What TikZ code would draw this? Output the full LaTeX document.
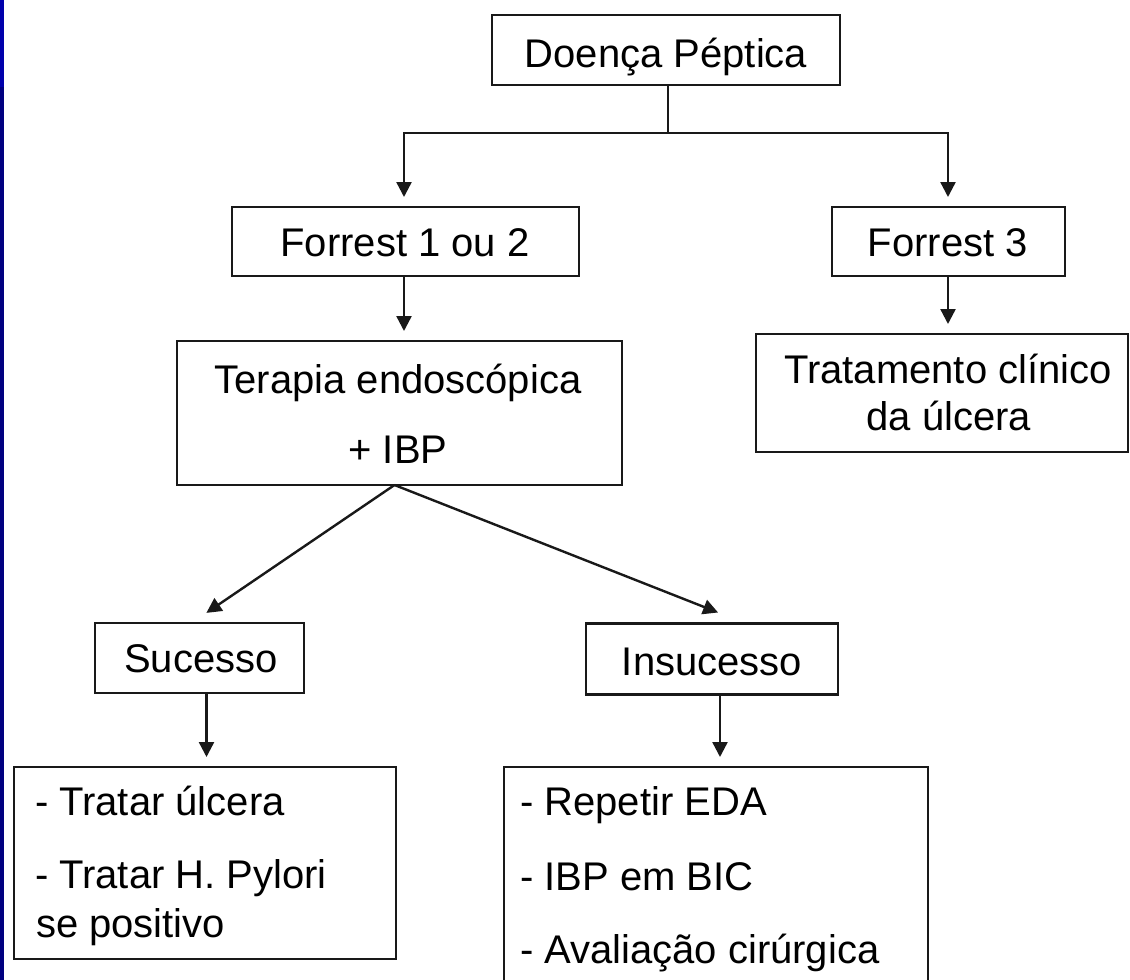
\documentclass[tikz,border=0pt]{standalone}
\usepackage{fontspec}
\setmainfont{Liberation Sans}
\usetikzlibrary{arrows.meta}
\definecolor{stripA}{RGB}{0,0,172}
\definecolor{stripB}{RGB}{0,0,128}
\definecolor{ink}{RGB}{25,25,25}
\tikzset{
  box/.style={draw=ink, line width=2.4pt, rectangle, inner sep=0pt, outer sep=0pt, fill=none},
  txt/.style={inner sep=0pt, outer sep=0pt, font=\fontsize{40}{48}\selectfont, text=black},
  conn/.style={draw=ink, line width=2.4pt},
  arr/.style={conn, -{Triangle[width=15pt,length=15pt]}, shorten >=10pt}
}
\begin{document}
\begin{tikzpicture}[x=1pt,y=-1pt]
\useasboundingbox (0,0) rectangle (1130,980);
\clip (0,0) rectangle (1130,980);
\fill[white] (0,0) rectangle (1130,980);
% left strip
\fill[stripA] (0,0) rectangle (4,87);
\fill[stripB] (0,87) rectangle (4,980);

% boxes
\node[box, minimum width=348pt, minimum height=70pt] (dp) at (666,50) {};
\node[box, minimum width=347pt, minimum height=69pt] (f12) at (405.5,241.5) {};
\node[box, minimum width=233pt, minimum height=69pt] (f3) at (948.5,241.5) {};
\node[box, minimum width=445pt, minimum height=144pt] (ter) at (399.5,413) {};
\node[box, minimum width=372pt, minimum height=118pt] (trat) at (942,393) {};
\node[box, minimum width=209pt, minimum height=70pt] (suc) at (199.5,658) {};
\node[box, minimum width=252pt, minimum height=71pt] (ins) at (712,659) {};
\node[box, minimum width=382pt, minimum height=192pt] (tu) at (205,863) {};
\node[box, minimum width=424pt, minimum height=233pt] (rep) at (716,883.5) {};

% texts
\node[txt, anchor=base] (dpt) at (666,67) {Doença Péptica};
\node[txt, anchor=base] (f12t) at (405,256) {Forrest 1 ou 2};
\node[txt, anchor=base] (f3t) at (948,256) {Forrest 3};
\node[txt, anchor=base] (tert1) at (398,393) {Terapia endoscópica};
\node[txt, anchor=base] (tert2) at (398,463) {+ IBP};
\node[txt, anchor=base] (tratt1) at (948,383) {Tratamento clínico};
\node[txt, anchor=base] (tratt2) at (949,430) {da úlcera};
\node[txt, anchor=base] (suct) at (201,672) {Sucesso};
\node[txt, anchor=base] (inst) at (712,675) {Insucesso};
\node[txt, anchor=base west] (tu1) at (35,815) {- Tratar úlcera};
\node[txt, anchor=base west] (tu2) at (35,888) {- Tratar H. Pylori};
\node[txt, anchor=base west] (tu3) at (36,937) {se positivo};
\node[txt, anchor=base west] (rep1) at (520,815) {- Repetir EDA};
\node[txt, anchor=base west] (rep2) at (520,890) {- IBP em BIC};
\node[txt, anchor=base west] (rep3) at (520,963) {- Avaliação cirúrgica};

% connectors
\coordinate (j) at (668,133);
\draw[conn] ([xshift=2pt]dp.south) -- (j);
\draw[arr] (j) -| ([xshift=-1.5pt]f12.north);
\draw[arr] (j) -| ([xshift=-0.5pt]f3.north);
\draw[arr] ([xshift=-1.5pt]f12.south) -- ([xshift=-1.5pt]f12.south |- ter.north);
\draw[arr] ([xshift=-0.5pt]f3.south) -- ([xshift=-0.5pt]f3.south |- trat.north);
\draw[arr, shorten >=18pt] ([xshift=-5pt]ter.south) -- ([xshift=-8pt]suc.north);
\draw[arr, shorten >=30pt] ([xshift=-5pt]ter.south) -- ([xshift=34pt]ins.north);
\draw[arr] ([xshift=7pt]suc.south) -- ([xshift=7pt]suc.south |- tu.north);
\draw[arr] ([xshift=8pt]ins.south) -- ([xshift=8pt]ins.south |- rep.north);
\end{tikzpicture}
\end{document}
